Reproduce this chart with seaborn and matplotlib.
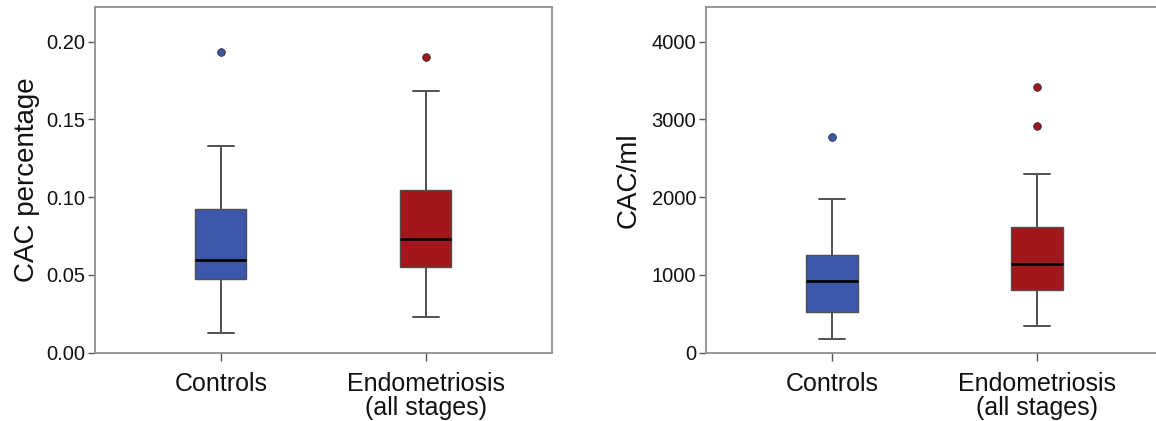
import matplotlib
matplotlib.use("Agg")
import matplotlib.pyplot as plt
import seaborn as sns
import pandas as pd

# ---- data (samples chosen so quartiles/whiskers/outliers match) ----
categories = ["Controls", "Endometriosis\n(all stages)"]
box_colors = ["#3D57AB", "#A3161B"]

controls_pct = [0.0127, 0.0475, 0.0475, 0.0596, 0.0596, 0.0596, 0.0923, 0.1327, 0.1935]
endo_pct = [0.0228, 0.0548, 0.0548, 0.0729, 0.0729, 0.0729, 0.1047, 0.1682, 0.1903]

controls_ml = [172, 524, 524, 919, 919, 919, 1254, 1979, 2768]
endo_ml = [344, 803, 803, 803, 1146, 1146, 1146, 1622, 1622, 1622, 2297, 2909, 3420]

pct_ticks = [0.00, 0.05, 0.10, 0.15, 0.20]
ml_ticks = [0, 1000, 2000, 3000, 4000]

sns.set_theme(style="white")
plt.rcParams["font.family"] = ["Liberation Sans", "DejaVu Sans"]

fig = plt.figure(figsize=(11.56, 4.21), dpi=100)
ax1 = fig.add_axes([94.7 / 1156, (421 - 352.7) / 421, 457.6 / 1156, 345.4 / 421])
ax2 = fig.add_axes([706 / 1156, (421 - 352.7) / 421, 457.6 / 1156, 345.4 / 421])

spine_col = "#8f8f8f"


def draw(ax, groups, ylabel, ylim, ticks, fmt, lpad):
    for cat, vals, col in zip(categories, groups, box_colors):
        df = pd.DataFrame({"group": [cat] * len(vals), "value": vals})
        sns.boxplot(
            data=df, x="group", y="value", order=categories, ax=ax,
            color=col, saturation=1, width=0.25, whis=1.5,
            linecolor="#4a4a4a", linewidth=1.3,
            boxprops=dict(edgecolor="#505050", linewidth=1.0),
            whiskerprops=dict(color="#505050", linewidth=1.4),
            capprops=dict(color="#505050", linewidth=1.4),
            medianprops=dict(color="black", linewidth=1.9),
            flierprops=dict(marker="o", markerfacecolor=col, markeredgecolor="#303030",
                            markeredgewidth=0.6, markersize=5.5),
        )
    ax.set_xlim(-0.615, 1.617)
    ax.set_ylim(*ylim)
    ax.set_yticks(ticks)
    ax.set_yticklabels([fmt(t) for t in ticks], fontsize=14.5, color="#111111")
    ax.set_xticks(range(len(categories)))
    ax.set_xticklabels(categories, fontsize=18, color="#111111", linespacing=1.0)
    ax.set_xlabel("")
    ax.set_ylabel(ylabel, fontsize=20, color="#111111", labelpad=lpad)
    for s in ax.spines.values():
        s.set_visible(True)
        s.set_color(spine_col)
        s.set_linewidth(1.3)
    ax.tick_params(axis="both", which="major", direction="out", length=5,
                   width=1.0, color="#555555", pad=2, left=True, bottom=True)
    ax.tick_params(axis="x", length=6, pad=8)


draw(ax1, [controls_pct, endo_pct], "CAC percentage", (0, 0.222), pct_ticks,
     lambda t: f"{t:.2f}", 4)
draw(ax2, [controls_ml, endo_ml], "CAC/ml", (0, 4440), ml_ticks,
     lambda t: f"{int(t)}", 7)

fig.savefig("out.png", dpi=100)
